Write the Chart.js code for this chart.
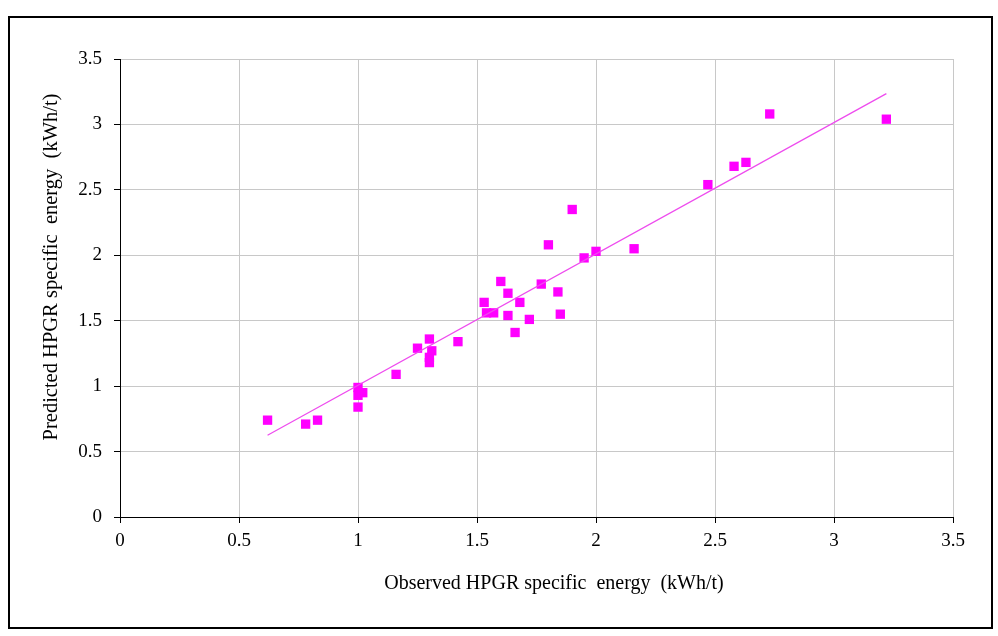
<!DOCTYPE html>
<html>
<head>
<meta charset="utf-8">
<script src="https://cdn.jsdelivr.net/npm/chart.js@4/dist/chart.umd.min.js"></script>
<style>
  html, body { margin: 0; padding: 0; background: #fff; }
  #wrap { width: 998px; height: 636px; }
</style>
</head>
<body>
<div id="wrap"><canvas id="c" width="998" height="636"></canvas></div>
<script>
// Observed vs predicted HPGR specific energy (kWh/t)
const observed  = [0.62, 0.78, 0.83, 1.00, 1.00, 1.02, 1.00, 1.16, 1.25, 1.30, 1.31, 1.30, 1.30, 1.42,
                   1.53, 1.54, 1.57, 1.60, 1.63, 1.63, 1.66, 1.68, 1.72, 1.77, 1.80, 1.84, 1.85, 1.90,
                   1.95, 2.00, 2.16, 2.47, 2.58, 2.63, 2.73, 3.22];
const predicted = [0.74, 0.71, 0.74, 0.99, 0.93, 0.95, 0.84, 1.09, 1.29, 1.36, 1.27, 1.22, 1.18, 1.34,
                   1.64, 1.56, 1.56, 1.80, 1.71, 1.54, 1.41, 1.64, 1.51, 1.78, 2.08, 1.72, 1.55, 2.35,
                   1.98, 2.03, 2.05, 2.54, 2.68, 2.71, 3.08, 3.04];
// Trend line end points
const trendX = [0.62, 3.22];
const trendY = [0.625, 3.235];
const xTickLabels = ['0', '0.5', '1', '1.5', '2', '2.5', '3', '3.5'];
const yTickLabels = ['0', '0.5', '1', '1.5', '2', '2.5', '3', '3.5'];
const xTitle = 'Observed HPGR specific  energy  (kWh/t)';
const yTitle = 'Predicted HPGR specific  energy  (kWh/t)';

const scatterData = observed.map((x, i) => ({ x: x, y: predicted[i] }));
const trendData = trendX.map((x, i) => ({ x: x, y: trendY[i] }));

const FAMILY = '"Liberation Serif", "Times New Roman", serif';
const TICK_FONT = { family: FAMILY, size: 19 };

const frame = {
  id: 'frame',
  beforeDraw(chart) {
    const ctx = chart.ctx;
    ctx.save();
    ctx.fillStyle = '#fff';
    ctx.fillRect(0, 0, chart.width, chart.height);
    ctx.strokeStyle = '#000';
    ctx.lineWidth = 2;
    ctx.strokeRect(9, 17, 983, 611);
    ctx.restore();
  }
};

// Axis titles, placed where the reference puts them
const axisTitles = {
  id: 'axisTitles',
  afterDraw(chart) {
    const ctx = chart.ctx;
    ctx.save();
    ctx.fillStyle = '#000';
    ctx.textAlign = 'center';
    ctx.textBaseline = 'middle';
    ctx.font = '20px ' + FAMILY;
    ctx.fillText(xTitle, 554, 584);
    ctx.translate(52, 267);
    ctx.rotate(-Math.PI / 2);
    ctx.font = '20.5px ' + FAMILY;
    ctx.fillText(yTitle, 0, 0);
    ctx.restore();
  }
};

new Chart(document.getElementById('c'), {
  type: 'scatter',
  data: {
    datasets: [
      {
        type: 'line',
        data: trendData,
        borderColor: '#ee4cee',
        borderWidth: 1.3,
        pointRadius: 0,
        fill: false,
        tension: 0,
        order: 1
      },
      {
        data: scatterData,
        pointStyle: 'rect',
        pointRadius: 6.6,
        pointHoverRadius: 6.6,
        backgroundColor: '#ff00ff',
        borderColor: '#ff00ff',
        borderWidth: 0,
        order: 2
      }
    ]
  },
  options: {
    responsive: false,
    animation: false,
    events: [],
    layout: { padding: { top: 59, right: 45, left: 0, bottom: 0 } },
    plugins: { legend: { display: false }, tooltip: { enabled: false } },
    scales: {
      x: {
        type: 'linear',
        min: 0, max: 3.5,
        afterFit(s) { s.height = 119; },
        ticks: {
          stepSize: 0.5,
          color: '#000',
          font: TICK_FONT,
          padding: 7,
          maxRotation: 0,
          callback: (v, i) => xTickLabels[i]
        },
        grid: { color: '#c8c8c8', lineWidth: 1, tickLength: 6, tickColor: '#000' },
        border: { color: '#000', width: 1 },
        title: { display: false }
      },
      y: {
        type: 'linear',
        min: 0, max: 3.5,
        afterFit(s) { s.width = 120; },
        ticks: {
          stepSize: 0.5,
          color: '#000',
          font: TICK_FONT,
          padding: 12,
          callback: (v, i) => yTickLabels[i]
        },
        grid: { color: '#c8c8c8', lineWidth: 1, tickLength: 6, tickColor: '#000' },
        border: { color: '#000', width: 1 },
        title: { display: false }
      }
    }
  },
  plugins: [frame, axisTitles]
});
</script>
</body>
</html>
